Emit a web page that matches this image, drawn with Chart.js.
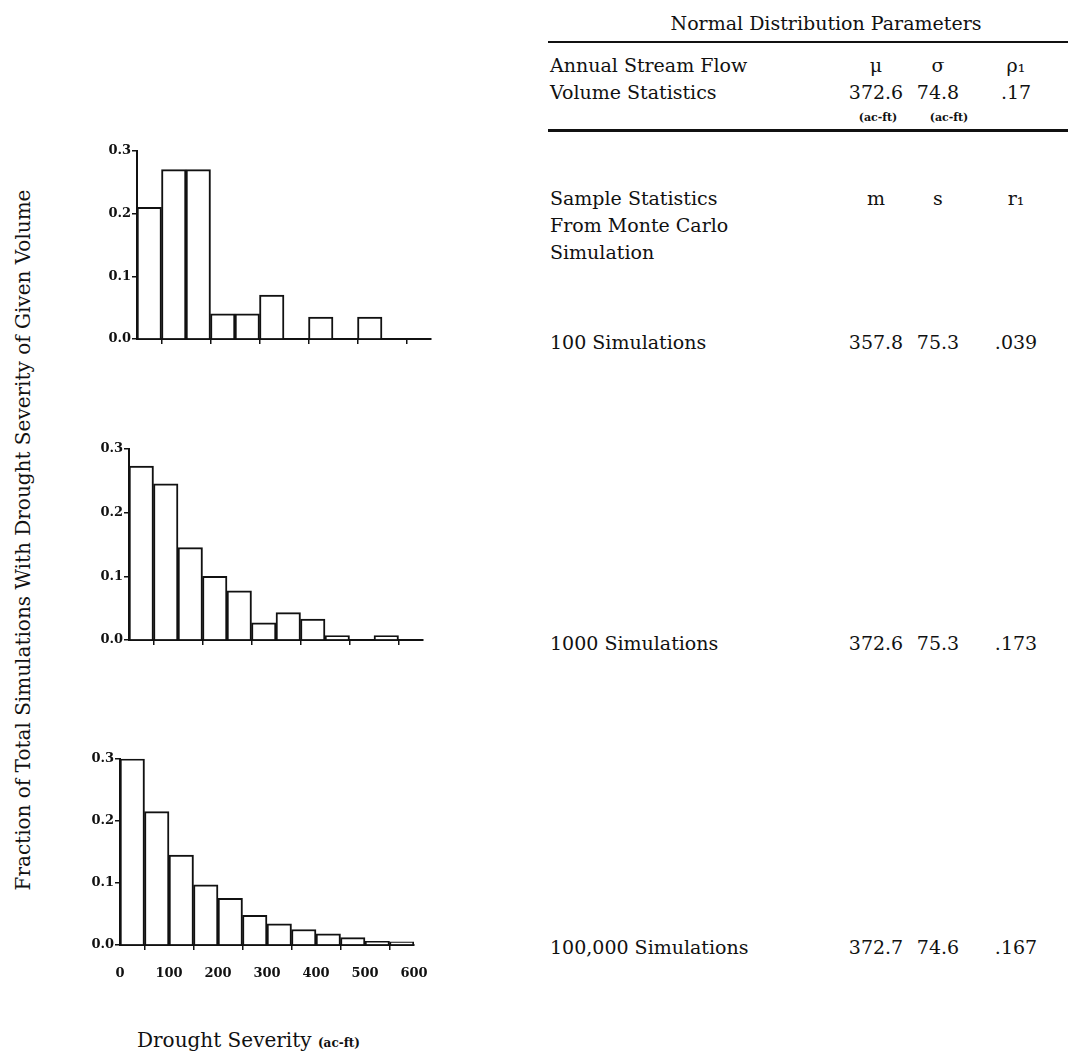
<!DOCTYPE html>
<html><head><meta charset="utf-8">
<script src="https://cdn.jsdelivr.net/npm/chart.js@4.4.0/dist/chart.umd.min.js"></script>
<style>
body{margin:0;background:#fff;width:1068px;height:1054px;position:relative;overflow:hidden;font-family:"DejaVu Serif",serif;color:#111}
.t{position:absolute;white-space:nowrap;line-height:1;font-size:19px}
.c{position:absolute}
.rule{position:absolute;background:#111}
</style></head><body>
<canvas id="h100" class="c"></canvas>
<canvas id="h1000" class="c"></canvas>
<canvas id="h100000" class="c"></canvas>
<div id="txt"></div>
<script>
// ---- data ----
const binCenters = [25, 75, 125, 175, 225, 275, 325, 375, 425, 475, 525, 575];
const frac100    = [0.21, 0.27, 0.27, 0.04, 0.04, 0.07, 0, 0.035, 0, 0.035, 0, 0];
const frac1000   = [0.273, 0.245, 0.145, 0.10, 0.077, 0.027, 0.043, 0.033, 0.007, 0, 0.007, 0];
const frac100000 = [0.30, 0.215, 0.145, 0.097, 0.075, 0.048, 0.034, 0.025, 0.018, 0.012, 0.006, 0.005];
const yTickValues = [0.0, 0.1, 0.2, 0.3];
const xTickValues = [0, 100, 200, 300, 400, 500, 600];

const tableTitle = 'Normal Distribution Parameters';
const paramLabel = ['Annual Stream Flow', 'Volume Statistics'];
const paramHeaders = ['μ', 'σ', 'ρ₁'];
const paramValues = ['372.6', '74.8', '.17'];
const paramUnits = ['(ac-ft)', '(ac-ft)', ''];
const sampleLabel = ['Sample Statistics', 'From Monte Carlo', 'Simulation'];
const sampleHeaders = ['m', 's', 'r₁'];
const runLabels = ['100 Simulations', '1000 Simulations', '100,000 Simulations'];
const runM = ['357.8', '372.6', '372.7'];
const runS = ['75.3', '75.3', '74.6'];
const runR = ['.039', '.173', '.167'];

const yTitle = 'Fraction of Total Simulations With Drought Severity of Given Volume';
const xTitle = 'Drought Severity';
const xUnit = '(ac-ft)';

// ---- layout ----
const YAXW = 46, PADT = 8, PADR = 36, XAXH = 42, AREAW = 294;
const charts = [
  {id:'h100', vals:frac100, left:137, top:150, h:189, labels:false},
  {id:'h1000', vals:frac1000, left:129, top:448, h:192, labels:false},
  {id:'h100000', vals:frac100000, left:120, top:758, h:187, labels:true}
];
const tickFont = {family:'DejaVu Serif', weight:'bold', size:13};

charts.forEach(c => {
  const cv = document.getElementById(c.id);
  const W = YAXW + AREAW + PADR, H = PADT + c.h + XAXH;
  cv.width = W; cv.height = H;
  cv.style.width = W + 'px'; cv.style.height = H + 'px';
  cv.style.left = (c.left - YAXW) + 'px'; cv.style.top = (c.top - PADT) + 'px';
  new Chart(cv, {
    type: 'bar',
    data: { datasets: [{
      data: binCenters.map((x, i) => ({x: x, y: c.vals[i]})),
      backgroundColor: '#fff', borderColor: '#111', borderWidth: 2,
      borderSkipped: 'start', barPercentage: 1, categoryPercentage: 1
    }]},
    options: {
      responsive: false, animation: false, devicePixelRatio: 1,
      layout: {padding: {top: PADT, right: PADR, left: 0, bottom: 0}},
      plugins: {legend: {display: false}, tooltip: {enabled: false}},
      scales: {
        x: {
          type: 'linear', min: 0, max: 600, offset: false,
          afterFit: s => { s.height = XAXH; },
          afterBuildTicks: s => { s.ticks = xTickValues.map(v => ({value: v})); },
          ticks: {display: c.labels, font: tickFont, color: '#111', padding: 16,
                  callback: v => String(v), maxRotation: 0, autoSkip: false},
          grid: {drawOnChartArea: false, drawTicks: true, tickLength: 5, color: '#111', lineWidth: 1.5},
          border: {display: true, color: '#111', width: 2}
        },
        y: {
          min: 0, max: 0.3,
          afterFit: s => { s.width = YAXW; },
          afterBuildTicks: s => { s.ticks = yTickValues.map(v => ({value: v})); },
          ticks: {font: tickFont, color: '#111', padding: 1, callback: v => v.toFixed(1)},
          grid: {drawOnChartArea: false, drawTicks: true, tickLength: 5, color: '#111', lineWidth: 1.5},
          border: {display: true, color: '#111', width: 2}
        }
      }
    }
  });
});

// ---- text ----
const box = document.getElementById('txt');
function put(text, x, y, align, extra) {
  const d = document.createElement('div');
  d.className = 't';
  d.textContent = text;
  d.style.left = x + 'px'; d.style.top = y + 'px';
  const tx = align === 'center' ? '-50%' : (align === 'right' ? '-100%' : '0');
  d.style.transform = 'translate(' + tx + ',-50%)';
  if (extra) Object.assign(d.style, extra);
  box.appendChild(d);
  return d;
}
function rule(x, y, w, h) {
  const d = document.createElement('div');
  d.className = 'rule';
  d.style.left = x + 'px'; d.style.top = y + 'px';
  d.style.width = w + 'px'; d.style.height = h + 'px';
  box.appendChild(d);
}
const colX = [876, 938, 1016];
const LX = 550;

put(tableTitle, 826, 23, 'center');
rule(548, 41, 520, 2);
put(paramLabel[0], LX, 65, 'left');
put(paramLabel[1], LX, 92, 'left');
paramHeaders.forEach((t, i) => put(t, colX[i], 65, 'center'));
paramValues.forEach((t, i) => put(t, colX[i], 92, 'center'));
const unitX = [878, 949];
paramUnits.forEach((t, i) => { if (t) put(t, unitX[i], 117, 'center', {fontSize: '11px', fontWeight: 'bold'}); });
rule(548, 129, 520, 3);

sampleLabel.forEach((t, i) => put(t, LX, 198 + 27 * i, 'left'));
sampleHeaders.forEach((t, i) => put(t, colX[i], 198, 'center'));

const rowY = [342, 643, 947];
runLabels.forEach((t, i) => {
  put(t, LX, rowY[i], 'left');
  put(runM[i], colX[0], rowY[i], 'center');
  put(runS[i], colX[1], rowY[i], 'center');
  put(runR[i], colX[2], rowY[i], 'center');
});

put(yTitle, 23, 540, 'center', {fontSize: '20px', transform: 'translate(-50%,-50%) rotate(-90deg)'});
const xt = put(xTitle + ' ', 137, 1040, 'left', {fontSize: '20px'});
const u = document.createElement('span');
u.textContent = xUnit;
u.style.fontSize = '12px'; u.style.fontWeight = 'bold';
xt.appendChild(u);
</script>
</body></html>
